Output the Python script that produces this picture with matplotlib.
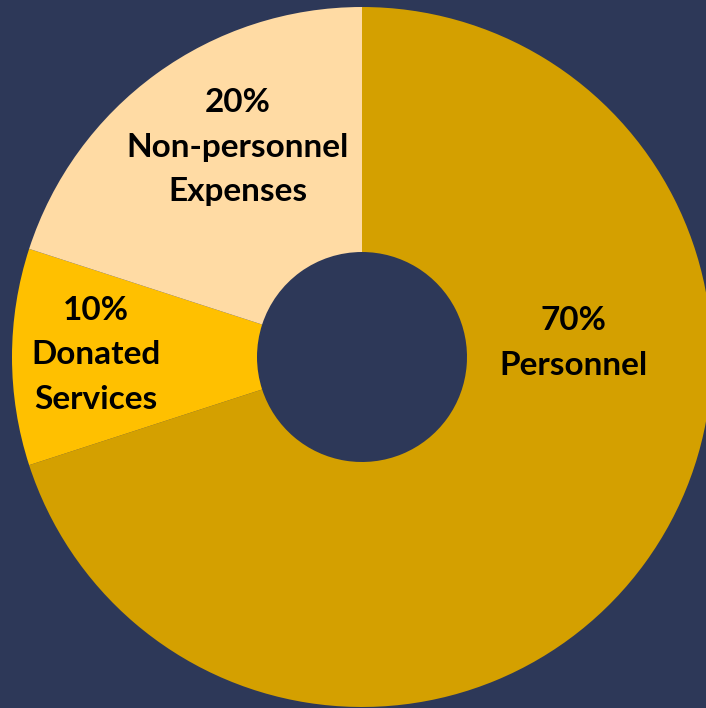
import matplotlib
matplotlib.use("Agg")
import matplotlib.pyplot as plt

# budget shares
categories = ["Personnel", "Donated\nServices", "Non-personnel\nExpenses"]
shares = [70, 10, 20]
colors = ["#D4A000", "#FFC000", "#FFDBA4"]

bg = "#2D3858"
W, H = 706, 708

fig = plt.figure(figsize=(W / 100, H / 100), dpi=100, facecolor=bg)
ax = fig.add_axes([0, 0, 1, 1])
ax.set_facecolor(bg)

cx, cy, R, r = 362, H - 357, 350, 105
wedges, _ = ax.pie(shares, colors=colors, startangle=90, counterclock=False,
                   radius=R, center=(cx, cy), frame=True,
                   wedgeprops=dict(width=R - r, linewidth=0))

# label spots in pixel coordinates (top-left origin)
label_pos = [(573, 343), (96, 355), (238, 147)]
for cat, val, (x, y) in zip(categories, shares, label_pos):
    ax.text(x, H - y, f"{val}%\n{cat}", ha="center", va="center",
            fontsize=24, fontweight="bold", family="Lato", color="black",
            linespacing=1.63)

ax.set_xlim(0, W)
ax.set_ylim(0, H)
ax.set_aspect("equal")
ax.axis("off")

fig.savefig("out.png", dpi=100, facecolor=bg)
